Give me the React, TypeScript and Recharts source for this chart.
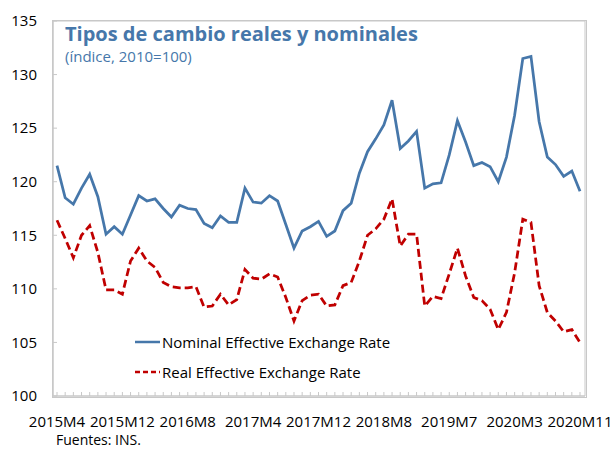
import { LineChart, Line, XAxis, YAxis, Legend, CartesianGrid } from 'recharts';

// monthly observations; the source skips three months in 2019
const months = [
  '2015M4', '2015M5', '2015M6', '2015M7', '2015M8', '2015M9', '2015M10', '2015M11', '2015M12',
  '2016M1', '2016M2', '2016M3', '2016M4', '2016M5', '2016M6', '2016M7', '2016M8', '2016M9',
  '2016M10', '2016M11', '2016M12',
  '2017M1', '2017M2', '2017M3', '2017M4', '2017M5', '2017M6', '2017M7', '2017M8', '2017M9',
  '2017M10', '2017M11', '2017M12',
  '2018M1', '2018M2', '2018M3', '2018M4', '2018M5', '2018M6', '2018M7', '2018M8', '2018M9',
  '2018M10', '2018M11', '2018M12',
  '2019M1', '2019M2', '2019M3', '2019M7', '2019M8', '2019M9', '2019M10', '2019M11', '2019M12',
  '2020M1', '2020M2', '2020M3', '2020M4', '2020M5', '2020M6', '2020M7', '2020M8', '2020M9',
  '2020M10', '2020M11',
];

const nominalRate = [
  121.5, 118.5, 117.9, 119.4, 120.7, 118.6, 115.1, 115.8, 115.1, 116.9,
  118.7, 118.2, 118.4, 117.5, 116.7, 117.8, 117.5, 117.4, 116.1, 115.7,
  116.8, 116.2, 116.2, 119.4, 118.1, 118.0, 118.7, 118.2, 116.0, 113.8,
  115.4, 115.8, 116.3, 114.9, 115.4, 117.3, 118.0, 120.8, 122.8, 124.0,
  125.3, 127.6, 123.1, 123.8, 124.7, 119.4, 119.8, 119.9, 122.5, 125.7,
  123.7, 121.5, 121.8, 121.4, 120.0, 122.3, 126.2, 131.5, 131.7, 125.6,
  122.3, 121.6, 120.5, 121.0, 119.1,
];

const realRate = [
  116.4, 114.7, 112.9, 115.0, 115.9, 113.4, 109.9, 109.9, 109.5, 112.6,
  113.8, 112.6, 112.0, 110.6, 110.2, 110.1, 110.1, 110.2, 108.3, 108.4,
  109.5, 108.5, 109.0, 111.8, 111.0, 110.9, 111.4, 111.1, 109.2, 107.0,
  108.9, 109.4, 109.5, 108.4, 108.5, 110.3, 110.6, 112.6, 115.0, 115.6,
  116.5, 118.4, 114.0, 115.1, 115.1, 108.4, 109.3, 109.1, 111.4, 113.8,
  111.2, 109.2, 108.9, 108.1, 106.2, 107.8, 111.5, 116.5, 116.2, 110.3,
  107.8, 107.0, 106.0, 106.2, 105.0,
];

const xTickLabels = ['2015M4', '2015M12', '2016M8', '2017M4', '2017M12', '2018M8', '2019M7', '2020M3', '2020M11'];
const yTicks = [100, 105, 110, 115, 120, 125, 130, 135];

const data = months.map((month, i) => ({ month, nominal: nominalRate[i], real: realRate[i] }));

const BLUE = '#4677aa';
const RED = '#c00000';
const GRID = '#c8c8c8';
const FONT = '"Open Sans", sans-serif';

function MonthTick({ x, y, payload }: any) {
  if (!xTickLabels.includes(payload.value)) return null;
  return (
    <text x={x} y={y} dy="0.71em" textAnchor="middle" fontSize={15} fill="#000" fontFamily={FONT}>
      {payload.value}
    </text>
  );
}

function LegendRows({ payload }: any) {
  return (
    <div style={{ fontFamily: FONT, fontSize: 15, color: '#000' }}>
      {(payload || []).map((entry: any) => (
        <div key={entry.value} style={{ display: 'flex', alignItems: 'center', height: 30 }}>
          <svg width={27} height={4} style={{ display: 'block' }}>
            <line
              x1={0}
              x2={25}
              y1={2}
              y2={2}
              stroke={entry.color}
              strokeWidth={2.5}
              strokeDasharray={entry.dataKey === 'real' ? '5 3' : undefined}
            />
          </svg>
          <span>{entry.value}</span>
        </div>
      ))}
    </div>
  );
}

// plot-area frame: only the outer edges, no inner grid lines
const frameRows = ({ offset }: any) => [offset.top, offset.top + offset.height];
const frameCols = ({ offset }: any) => [offset.left, offset.left + offset.width];

export default function App() {
  return (
    <div style={{ position: 'absolute', left: 0, top: 0, width: 613, height: 449, background: '#fff' }}>
      <LineChart width={613} height={449} data={data} margin={{ top: 21, right: 28, bottom: 23, left: 0 }}>
        <CartesianGrid
          stroke={GRID}
          horizontalCoordinatesGenerator={frameRows}
          verticalCoordinatesGenerator={frameCols}
        />
        <XAxis
          dataKey="month"
          interval={0}
          height={30}
          padding={{ left: 4, right: 5 }}
          axisLine={{ stroke: GRID }}
          tickLine={{ stroke: GRID }}
          tickSize={-4}
          tickMargin={24}
          tick={MonthTick}
        />
        <YAxis
          domain={[100, 135]}
          ticks={yTicks}
          width={53}
          axisLine={{ stroke: GRID }}
          tickLine={{ stroke: GRID }}
          tickSize={-4}
          tickMargin={20}
          tick={{ fill: '#000', fontSize: 15, fontFamily: FONT }}
        />
        <Legend
          layout="vertical"
          align="center"
          verticalAlign="middle"
          content={LegendRows}
          wrapperStyle={{ left: 135, top: 327, width: 'auto', height: 'auto' }}
        />
        <Line
          type="linear"
          dataKey="nominal"
          name="Nominal Effective Exchange Rate"
          stroke={BLUE}
          strokeWidth={2.75}
          dot={false}
          isAnimationActive={false}
        />
        <Line
          type="linear"
          dataKey="real"
          name="Real Effective Exchange Rate"
          stroke={RED}
          strokeWidth={2.75}
          strokeDasharray="8 4"
          dot={false}
          isAnimationActive={false}
        />
      </LineChart>
      {/* light box around the plot area, same edges as the chart margins above */}
      <div
        style={{
          position: 'absolute',
          left: 52,
          top: 20,
          width: 533,
          height: 376,
          border: `1px solid ${GRID}`,
          pointerEvents: 'none',
        }}
      />
      <div
        style={{
          position: 'absolute',
          left: 65,
          top: 24,
          fontFamily: FONT,
          fontWeight: 700,
          fontSize: 20,
          lineHeight: '20px',
          color: BLUE,
          whiteSpace: 'nowrap',
        }}
      >
        Tipos de cambio reales y nominales
      </div>
      <div
        style={{
          position: 'absolute',
          left: 65,
          top: 49,
          fontFamily: FONT,
          fontSize: 15,
          lineHeight: '15px',
          color: BLUE,
          whiteSpace: 'nowrap',
        }}
      >
        (índice, 2010=100)
      </div>
      <div
        style={{
          position: 'absolute',
          left: 56,
          top: 433,
          fontFamily: FONT,
          fontSize: 14,
          lineHeight: '14px',
          color: '#000',
          whiteSpace: 'nowrap',
        }}
      >
        Fuentes: INS.
      </div>
    </div>
  );
}
